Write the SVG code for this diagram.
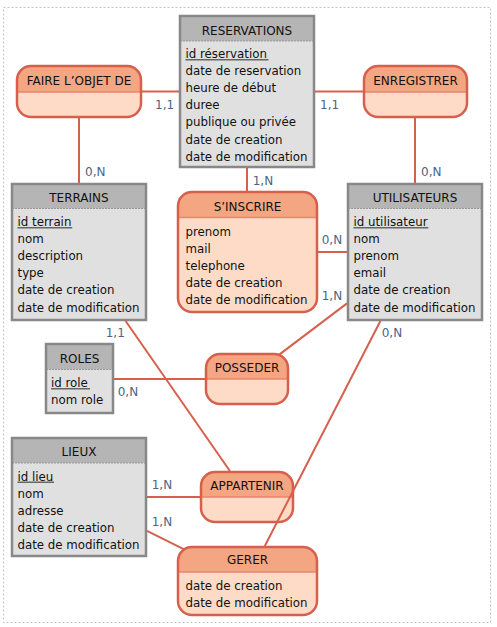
<svg xmlns="http://www.w3.org/2000/svg" width="497" height="627" viewBox="0 0 497 627">
<style>
text{font-family:"DejaVu Sans",Verdana,sans-serif;fill:#111}
.h{font-size:12px;text-anchor:middle}
.a{font-size:11.8px}
.c{font-size:12px;fill:#4b6485}
.eb{fill:#e0e0e0}
.eh{fill:#b5b5b5}
.es{stroke:#999;stroke-width:1;stroke-dasharray:2,1}
.eo{fill:none;stroke:#888;stroke-width:2.5}
.ul{stroke:#666;stroke-width:1.6}
.ab{fill:#fddbc7}
.ah{fill:#f4a582}
.as{stroke:#e8866c;stroke-width:1.5}
.ao{fill:none;stroke:#d6604d;stroke-width:2.5}
.lk line{stroke:#d6604d;stroke-width:2}
</style>
<rect x="3.5" y="7.5" width="487" height="615" fill="none" stroke="#c4c4c4" stroke-width="1" stroke-dasharray="2,2"/>

<g id="reservations">
<rect class="eb" x="180" y="16" width="134" height="151"/>
<rect class="eh" x="180" y="16" width="134" height="25"/>
<line class="es" x1="180" y1="41" x2="314" y2="41"/>
<rect class="eo" x="180" y="16" width="134" height="151"/>
<text class="h" x="247" y="34.5">RESERVATIONS</text>
<text class="a" x="185.5" y="58">id réservation</text>
<line class="ul" x1="185.5" y1="59.7" x2="268.5" y2="59.7"/>
<text class="a" x="185.5" y="75.1">date de reservation</text>
<text class="a" x="185.5" y="92.2">heure de début</text>
<text class="a" x="185.5" y="109.3">duree</text>
<text class="a" x="185.5" y="126.4">publique ou privée</text>
<text class="a" x="185.5" y="143.5">date de creation</text>
<text class="a" x="185.5" y="160.6">date de modification</text>
</g>

<g id="terrains">
<rect class="eb" x="12" y="184" width="134" height="136"/>
<rect class="eh" x="12" y="184" width="134" height="24.5"/>
<line class="es" x1="12" y1="208.5" x2="146" y2="208.5"/>
<rect class="eo" x="12" y="184" width="134" height="136"/>
<text class="h" x="79" y="201.5">TERRAINS</text>
<text class="a" x="17.5" y="226">id terrain</text>
<line class="ul" x1="17.5" y1="227.7" x2="72.3" y2="227.7"/>
<text class="a" x="17.5" y="243.1">nom</text>
<text class="a" x="17.5" y="260.2">description</text>
<text class="a" x="17.5" y="277.3">type</text>
<text class="a" x="17.5" y="294.4">date de creation</text>
<text class="a" x="17.5" y="311.5">date de modification</text>
</g>

<g id="utilisateurs">
<rect class="eb" x="348" y="184" width="134" height="136"/>
<rect class="eh" x="348" y="184" width="134" height="24.5"/>
<line class="es" x1="348" y1="208.5" x2="482" y2="208.5"/>
<rect class="eo" x="348" y="184" width="134" height="136"/>
<text class="h" x="415" y="201.5">UTILISATEURS</text>
<text class="a" x="353.5" y="226">id utilisateur</text>
<line class="ul" x1="353.5" y1="227.7" x2="428.3" y2="227.7"/>
<text class="a" x="353.5" y="243.1">nom</text>
<text class="a" x="353.5" y="260.2">prenom</text>
<text class="a" x="353.5" y="277.3">email</text>
<text class="a" x="353.5" y="294.4">date de creation</text>
<text class="a" x="353.5" y="311.5">date de modification</text>
</g>

<g id="roles">
<rect class="eb" x="46" y="344" width="67" height="69"/>
<rect class="eh" x="46" y="344" width="67" height="25.5"/>
<line class="es" x1="46" y1="369.5" x2="113" y2="369.5"/>
<rect class="eo" x="46" y="344" width="67" height="69"/>
<text class="h" x="79.5" y="363">ROLES</text>
<text class="a" x="51" y="387">id role</text>
<line class="ul" x1="51" y1="388.7" x2="90" y2="388.7"/>
<text class="a" x="51" y="404">nom role</text>
</g>

<g id="lieux">
<rect class="eb" x="12" y="438" width="134" height="118"/>
<rect class="eh" x="12" y="438" width="134" height="25"/>
<line class="es" x1="12" y1="463" x2="146" y2="463"/>
<rect class="eo" x="12" y="438" width="134" height="118"/>
<text class="h" x="79" y="456">LIEUX</text>
<text class="a" x="17.5" y="480.5">id lieu</text>
<line class="ul" x1="17.5" y1="482.2" x2="54" y2="482.2"/>
<text class="a" x="17.5" y="497.6">nom</text>
<text class="a" x="17.5" y="514.7">adresse</text>
<text class="a" x="17.5" y="531.8">date de creation</text>
<text class="a" x="17.5" y="548.9">date de modification</text>
</g>

<g id="faire-l-objet-de">
<rect class="ab" x="17" y="66" width="124" height="51" rx="14"/>
<path class="ah" d="M17,92 V80 A14,14 0 0 1 31,66 H127 A14,14 0 0 1 141,80 V92 Z"/>
<line class="as" x1="17" y1="92" x2="141" y2="92"/>
<rect class="ao" x="17" y="66" width="124" height="51" rx="14"/>
<text class="h" x="79" y="85">FAIRE L’OBJET DE</text>
</g>

<g id="enregistrer">
<rect class="ab" x="364" y="66" width="103" height="51" rx="14"/>
<path class="ah" d="M364,92 V80 A14,14 0 0 1 378,66 H453 A14,14 0 0 1 467,80 V92 Z"/>
<line class="as" x1="364" y1="92" x2="467" y2="92"/>
<rect class="ao" x="364" y="66" width="103" height="51" rx="14"/>
<text class="h" x="415.5" y="85">ENREGISTRER</text>
</g>

<g id="s-inscrire">
<rect class="ab" x="178" y="192" width="139" height="120" rx="14"/>
<path class="ah" d="M178,217.5 V206 A14,14 0 0 1 192,192 H303 A14,14 0 0 1 317,206 V217.5 Z"/>
<line class="as" x1="178" y1="217.5" x2="317" y2="217.5"/>
<rect class="ao" x="178" y="192" width="139" height="120" rx="14"/>
<text class="h" x="247.5" y="211">S’INSCRIRE</text>
<text class="a" x="185.5" y="235.7">prenom</text>
<text class="a" x="185.5" y="252.7">mail</text>
<text class="a" x="185.5" y="269.7">telephone</text>
<text class="a" x="185.5" y="286.7">date de creation</text>
<text class="a" x="185.5" y="303.7">date de modification</text>
</g>

<g id="posseder">
<rect class="ab" x="206" y="354" width="82" height="50" rx="14"/>
<path class="ah" d="M206,379 V368 A14,14 0 0 1 220,354 H274 A14,14 0 0 1 288,368 V379 Z"/>
<line class="as" x1="206" y1="379" x2="288" y2="379"/>
<rect class="ao" x="206" y="354" width="82" height="50" rx="14"/>
<text class="h" x="247" y="372">POSSEDER</text>
</g>

<g id="appartenir">
<rect class="ab" x="201" y="472" width="92" height="50" rx="14"/>
<path class="ah" d="M201,497 V486 A14,14 0 0 1 215,472 H279 A14,14 0 0 1 293,486 V497 Z"/>
<line class="as" x1="201" y1="497" x2="293" y2="497"/>
<rect class="ao" x="201" y="472" width="92" height="50" rx="14"/>
<text class="h" x="247" y="490">APPARTENIR</text>
</g>

<g id="gerer">
<rect class="ab" x="178" y="547" width="139" height="68" rx="14"/>
<path class="ah" d="M178,572 V561 A14,14 0 0 1 192,547 H303 A14,14 0 0 1 317,561 V572 Z"/>
<line class="as" x1="178" y1="572" x2="317" y2="572"/>
<rect class="ao" x="178" y="547" width="139" height="68" rx="14"/>
<text class="h" x="247.5" y="564.4">GERER</text>
<text class="a" x="185.5" y="590.3">date de creation</text>
<text class="a" x="185.5" y="607">date de modification</text>
</g>

<g id="connectors" class="lk">
<line x1="142" y1="91.5" x2="179" y2="91.5"/>
<line x1="79" y1="118" x2="79" y2="183"/>
<line x1="315" y1="91.5" x2="363" y2="91.5"/>
<line x1="415" y1="118" x2="415" y2="183"/>
<line x1="247" y1="168" x2="247" y2="191"/>
<line x1="318" y1="252" x2="347" y2="252"/>
<line x1="347" y1="303.4" x2="278.9" y2="354.9"/>
<line x1="114" y1="379" x2="205" y2="379"/>
<line x1="125.6" y1="321" x2="229.9" y2="471"/>
<line x1="147" y1="497" x2="200" y2="497"/>
<line x1="147" y1="530.9" x2="184.1" y2="549.4"/>
<line x1="380.4" y1="321" x2="264.8" y2="546"/>
</g>

<g id="cardinalities">
<text class="c" x="155" y="109.4">1,1</text>
<text class="c" x="85" y="176">0,N</text>
<text class="c" x="320" y="109.4">1,1</text>
<text class="c" x="421" y="176">0,N</text>
<text class="c" x="252.7" y="185">1,N</text>
<text class="c" x="321.7" y="243.7">0,N</text>
<text class="c" x="321.7" y="300">1,N</text>
<text class="c" x="117.7" y="396">0,N</text>
<text class="c" x="105.7" y="337">1,1</text>
<text class="c" x="151.7" y="488.7">1,N</text>
<text class="c" x="151.7" y="526">1,N</text>
<text class="c" x="381.7" y="336.7">0,N</text>
</g>
</svg>
